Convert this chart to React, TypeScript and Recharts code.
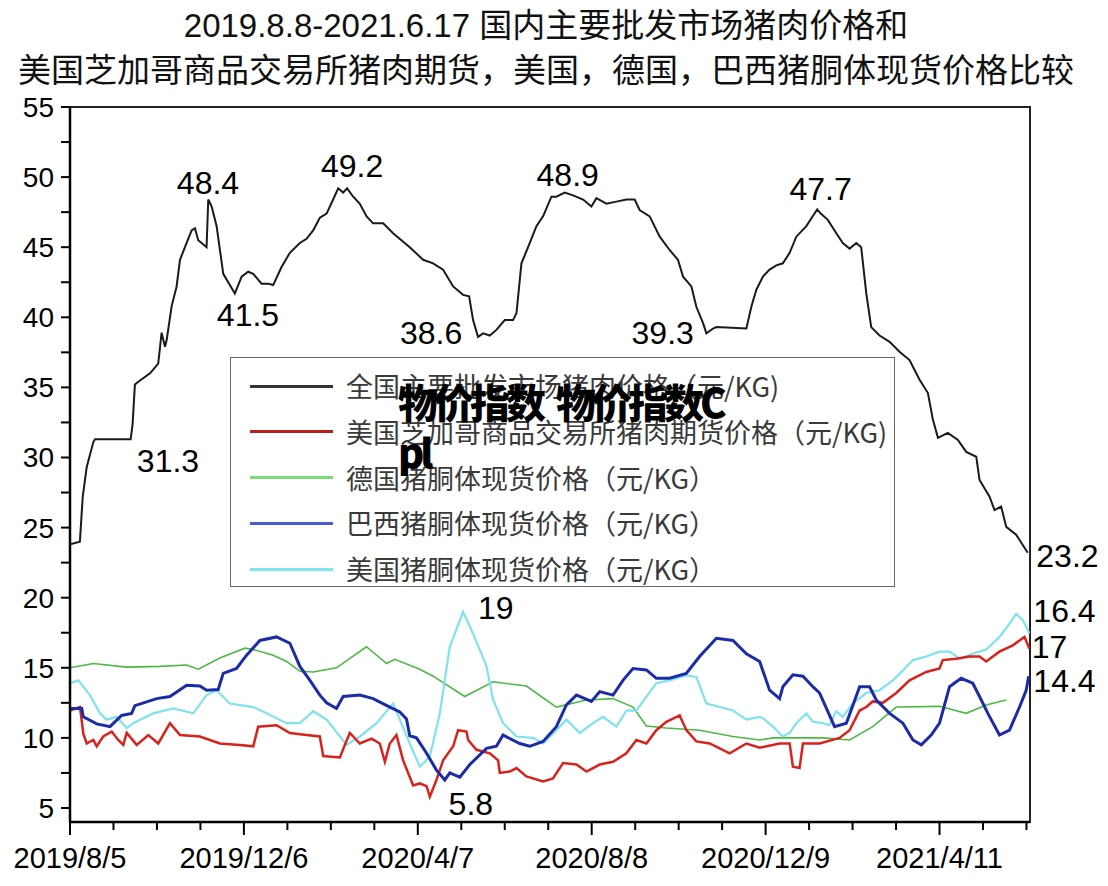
import React from 'react';
import { LineChart, Line, XAxis, YAxis, ReferenceDot, ReferenceArea } from 'recharts';

// x = days since 2019/8/5, y = price (元/KG)
const nationalWholesale: [number, number][] = [
  [0, 23.8], [7, 24.0], [9, 27.2], [11.8, 29.3], [16.5, 31.1], [17.7, 31.3], [42.9, 31.3], [44.3, 32.4], [45.9, 35.2],
  [48.3, 35.4], [56.6, 36.0], [62.4, 36.7], [64.8, 38.9], [67.2, 37.9], [68.4, 38.4], [71.9, 40.8], [75.4, 42.2],
  [77.8, 44.1], [81.3, 45.0], [86, 46.2], [88.4, 46.35], [90.7, 45.5], [93.1, 45.3], [96.6, 45.0], [97.8, 48.4],
  [100.2, 47.9], [103.7, 46.5], [108.4, 43.1], [116.6, 41.7], [121.4, 42.9], [126, 43.25], [129.6, 43.1], [135.5, 42.4],
  [140.2, 42.4], [143.7, 42.3], [149.7, 43.6], [155.5, 44.6], [162.6, 45.3], [167.3, 45.6], [172, 46.2], [176.7, 47.1],
  [181.5, 47.4], [186.1, 48.4], [189.7, 49.2], [193.2, 48.9], [196, 49.2], [200.3, 48.6], [205, 48.1], [209.8, 47.2],
  [214.4, 46.7], [221.5, 46.7], [228.5, 46.0], [240.3, 45.0], [249.8, 44.1], [256.8, 43.85], [263.9, 43.4], [271, 42.2],
  [278, 41.6], [282.3, 41.5], [285.1, 39.8], [288.6, 38.6], [292.2, 38.85], [296.9, 38.7], [301.6, 39.1], [307.5, 39.8],
  [313.4, 39.8], [315.8, 40.3], [319.3, 43.85], [324, 45.0], [329.9, 46.5], [334.6, 47.2], [340.5, 48.6], [344, 48.6],
  [349.9, 48.9], [355.8, 48.7], [362.9, 48.4], [368.8, 47.9], [372.3, 48.5], [379.4, 48.1], [386.5, 48.25], [393.5, 48.4],
  [399.4, 48.4], [402.9, 47.65], [410, 47.2], [417.1, 45.75], [424.1, 44.8], [430, 44.1], [433.6, 42.9], [439.5, 42.2],
  [443, 40.75], [447.7, 39.6], [450.1, 38.85], [454.8, 39.2], [457.2, 39.3], [478.4, 39.2], [481.9, 40.75], [485.4, 41.95],
  [490.1, 42.9], [494.8, 43.4], [499.6, 43.7], [504.2, 43.85], [509, 44.6], [513.7, 45.75], [520.8, 46.5], [526.6, 47.4],
  [528.5, 47.7], [531, 47.4], [536, 46.95], [542, 46.0], [546.6, 45.3], [551.4, 44.9], [556.1, 45.3], [559.6, 45.0],
  [563.2, 41.7], [566.7, 39.3], [572.6, 38.7], [579.7, 38.25], [586.7, 37.55], [593.8, 36.95], [600.9, 35.55],
  [606.8, 34.6], [610.3, 32.7], [613.9, 31.4], [620.9, 31.75], [628, 31.25], [633.9, 30.4], [641, 30.05], [643.3, 28.4],
  [650.4, 27.2], [653.9, 26.25], [658.6, 26.5], [662.2, 25.05], [669.2, 24.5], [677.4, 23.2],
];

const cmeFutures: [number, number][] = [
  [0, 11.95], [7.1, 12.2], [9.4, 10.3], [11.8, 9.6], [16.5, 9.85], [18.9, 9.4], [23.5, 10.1], [29.5, 10.45], [34.1, 9.85],
  [37.7, 9.5], [40.1, 10.35], [47.2, 9.5], [55.4, 10.2], [62.4, 9.6], [70.7, 11.05], [77.8, 10.2], [91.9, 10.1], [106, 9.6],
  [120.2, 9.5], [129.6, 9.4], [133.1, 10.8], [146.1, 10.9], [155.5, 10.35], [167.3, 10.2], [176.7, 10.1], [179.1, 8.7],
  [190.9, 8.6], [194.4, 9.5], [197.9, 10.35], [205, 9.6], [213.3, 9.95], [219.1, 9.6], [222.7, 8.3], [226.2, 9.6],
  [230.9, 10.2], [235.6, 8.4], [242.7, 6.6], [247.4, 6.75], [252.2, 6.55], [254.5, 5.8], [259.2, 7.0], [263.9, 8.4],
  [271, 9.4], [274.5, 10.55], [280.4, 10.45], [281.6, 9.85], [287.5, 9.15], [296.9, 8.9], [302.8, 8.4], [304, 7.5],
  [311, 7.6], [315.8, 7.85], [322.8, 7.25], [334.6, 6.9], [341.6, 7.1], [348.7, 8.2], [358.2, 8.1], [365.3, 7.6],
  [374.7, 8.1], [384.1, 8.3], [393.5, 8.9], [400.6, 9.85], [407.7, 9.6], [414.7, 10.55], [421.8, 11.15], [431.2, 11.6],
  [435.9, 10.55], [443, 9.75], [452.4, 9.6], [466.6, 8.9], [478.4, 9.6], [487.8, 9.3], [501.9, 9.6], [509, 9.6],
  [511.3, 7.95], [516, 7.85], [518.4, 9.6], [530.2, 9.6], [544.3, 10.0], [551.4, 10.55], [558.5, 11.95], [563.2, 12.2],
  [567.8, 12.6], [574.9, 12.5], [584.4, 13.2], [593.8, 14.1], [605.6, 14.7], [615, 14.95], [617.3, 15.55], [626.8, 15.65],
  [636.2, 15.8], [643.3, 15.8], [648, 15.45], [657.4, 16.15], [666.8, 16.6], [675.1, 17.2], [678.6, 16.35],
];

const germanyCarcass: [number, number][] = [
  [0, 15.0], [16.5, 15.3], [40.1, 15.05], [63.6, 15.1], [82.5, 15.2], [90.7, 14.9], [106, 15.7], [123.7, 16.4],
  [129.6, 16.3], [143.7, 15.9], [153.2, 15.45], [162.6, 14.75], [172, 14.7], [188.5, 15.0], [209.7, 16.5], [223.9, 15.3],
  [229.7, 15.6], [247.4, 14.9], [256.8, 14.4], [279.2, 12.95], [299.2, 14.0], [322.8, 13.7], [344, 12.2], [365.3, 12.7],
  [384.1, 12.8], [398.2, 12.2], [407.7, 10.85], [421.8, 10.7], [445.3, 10.55], [468.9, 10.1], [487.8, 9.85], [497.2, 10.0],
  [532.5, 10.0], [551.4, 9.85], [567.8, 10.8], [584.4, 12.2], [615, 12.25], [633.9, 11.75], [648, 12.35], [662.2, 12.7],
];

const brazilCarcass: [number, number][] = [
  [0, 12.1], [8.3, 12.1], [9.4, 11.5], [18.9, 11.0], [28.3, 10.8], [36.5, 11.6], [43.6, 11.75], [45.9, 12.3], [61.3, 12.8],
  [70.7, 12.95], [82.5, 13.75], [91.9, 13.7], [96.6, 13.4], [104.8, 13.45], [108.4, 14.6], [117.8, 14.95], [124.9, 15.9],
  [134.3, 16.95], [146.1, 17.2], [155.5, 16.75], [162.6, 15.1], [169.7, 14.1], [176.7, 13.05], [181.5, 12.5], [188.5, 12.1],
  [193.2, 12.95], [205, 13.05], [214.4, 12.8], [226.2, 12.2], [233.3, 11.85], [238, 11.35], [240.3, 10.15], [245.1, 10.0],
  [252.2, 8.9], [259.2, 7.7], [265.1, 7.0], [268.6, 7.5], [275.7, 7.2], [282.8, 8.1], [294.6, 9.25], [301.6, 9.4],
  [306.3, 10.2], [318.1, 9.6], [325.2, 9.4], [334.6, 9.75], [344, 10.8], [351.1, 12.35], [358.2, 13.05], [368.8, 12.6],
  [374.7, 13.3], [384.1, 13.05], [391.1, 14.1], [398.2, 14.95], [407.7, 14.85], [414.7, 14.25], [424.1, 14.25],
  [435.9, 14.6], [445.3, 15.8], [457.2, 17.1], [468.9, 16.95], [478.4, 16.0], [487.8, 15.45], [494.8, 13.4], [501.9, 12.8],
  [504.2, 13.65], [511.3, 14.5], [518.4, 14.4], [525.4, 13.65], [530.2, 13.2], [540.8, 10.8], [549.1, 11.05],
  [558.5, 13.65], [565.5, 13.65], [570.3, 12.7], [579.7, 11.75], [589.1, 11.05], [596.2, 9.85], [602.1, 9.5], [609.1, 10.2],
  [615, 11.05], [622.1, 13.65], [630.3, 14.25], [638.5, 13.9], [643.3, 12.95], [649.2, 11.75], [657.4, 10.2],
  [664.5, 10.55], [671.6, 12.2], [676.3, 13.4], [678.1, 14.4],
];

const usCarcass: [number, number][] = [
  [0, 13.9], [5.9, 14.1], [14.1, 13.05], [21.2, 11.75], [25.9, 11.3], [33, 11.5], [40.1, 10.7], [44.7, 11.05], [58.9, 11.75],
  [73, 12.1], [87.2, 11.75], [96.6, 13.05], [103.7, 13.4], [113.1, 12.45], [129.6, 12.2], [139, 11.75], [153.2, 11.05],
  [162.6, 11.05], [172, 11.9], [181.5, 11.3], [195.6, 9.5], [205, 10.1], [216.8, 11.05], [228.5, 12.45], [233.3, 11.3],
  [240.3, 9.6], [247.4, 7.95], [254.5, 8.65], [261.6, 11.75], [268.6, 16.5], [278, 19.0], [282.8, 17.95], [289.8, 16.3],
  [294.6, 15.1], [299.2, 12.75], [306.3, 11.05], [315.8, 10.1], [327.5, 10.0], [334.6, 9.6], [344, 10.55], [351.1, 11.3],
  [360.5, 10.35], [369.9, 11.05], [377, 11.5], [386.5, 10.8], [393.5, 11.95], [400.6, 11.95], [407.7, 12.95], [414.7, 13.9],
  [424.1, 14.1], [435.9, 14.45], [443, 14.35], [450.1, 12.45], [459.5, 12.2], [468.9, 11.95], [478.4, 11.3], [487.8, 11.5],
  [490.1, 11.4], [497.2, 10.8], [504.2, 10.1], [509, 10.35], [513.7, 11.05], [520.8, 11.75], [525.4, 11.15], [532.5, 11.05],
  [537.2, 10.9], [541.9, 11.9], [546.6, 11.5], [553.6, 12.45], [563.2, 13.2], [572.6, 13.4], [582, 14.1], [589.1, 14.8],
  [596.2, 15.55], [605.6, 15.8], [615, 16.15], [622.1, 16.15], [629.1, 15.65], [638.5, 16.0], [648, 16.3], [657.4, 17.2],
  [664.5, 18.15], [669.2, 18.85], [673.9, 18.4], [678.6, 17.45],
];

const titleLines = ['2019.8.8-2021.6.17 国内主要批发市场猪肉价格和', '美国芝加哥商品交易所猪肉期货，美国，德国，巴西猪胴体现货价格比较'];
const seriesNames = [
  '全国主要批发市场猪肉价格（元/KG)',
  '美国芝加哥商品交易所猪肉期货价格（元/KG)',
  '德国猪胴体现货价格（元/KG）',
  '巴西猪胴体现货价格（元/KG）',
  '美国猪胴体现货价格（元/KG）',
];
const watermarkParts = ['物价指数', '物价指数C', 'pl'];
const xMajorDays = [0, 123, 246, 369, 492, 615];
const xMajorLabels = ['2019/8/5', '2019/12/6', '2020/4/7', '2020/8/8', '2020/12/9', '2021/4/11'];
const xAllTicks = Array.from({ length: 23 }, (_, i) => i * 30.75);
const yAllTicks = Array.from({ length: 21 }, (_, i) => 5 + i * 2.5);
// annotation text centres, in data coordinates
const annotations: { x: number; y: number; text: string }[] = [
  { x: 97.6, y: 49.6, text: '48.4' },
  { x: 199.5, y: 50.8, text: '49.2' },
  { x: 125.9, y: 40.2, text: '41.5' },
  { x: 255.4, y: 38.9, text: '38.6' },
  { x: 352, y: 50.2, text: '48.9' },
  { x: 419.2, y: 38.9, text: '39.3' },
  { x: 530.9, y: 49.15, text: '47.7' },
  { x: 69.3, y: 29.75, text: '31.3' },
  { x: 705.5, y: 22.97, text: '23.2' },
  { x: 301.1, y: 19.27, text: '19' },
  { x: 703.4, y: 19.05, text: '16.4' },
  { x: 692.8, y: 16.5, text: '17' },
  { x: 703.4, y: 14.06, text: '14.4' },
  { x: 283.5, y: 5.29, text: '5.8' },
];

const seriesColors = ['#1a1a1a', '#d8231c', '#4cb944', '#1c2ca8', '#7fe3ee'];
const legendColors = ['#333333', '#b8201a', '#77dd77', '#4a5bd0', '#7ee8ee'];
const seriesWidths = [2, 2.5, 1.6, 3, 2.2];

const toRows = (arr: [number, number][]) => arr.map(([d, v]) => ({ d, v }));
const allSeries = [nationalWholesale, cmeFutures, germanyCarcass, brazilCarcass, usCarcass];
const drawOrder = [2, 4, 1, 3, 0];

const FONT = "'Liberation Sans', Arial, 'Noto Sans CJK SC', sans-serif";

const XTick = (props: any) => {
  const { x, y, payload } = props;
  const idx = xMajorDays.findIndex((d) => Math.abs(d - payload.value) < 0.01);
  const major = idx >= 0;
  return (
    <g>
      <line x1={x} x2={x} y1={y} y2={y + (major ? 13 : 8)} stroke="#000" strokeWidth={2} />
      {major && (
        <text x={x} y={y + 46} textAnchor="middle" fontSize={29} fontFamily={FONT} fill="#000">
          {xMajorLabels[idx]}
        </text>
      )}
    </g>
  );
};

const YTick = (props: any) => {
  const { x, y, payload } = props;
  const major = Math.abs(payload.value % 5) < 0.01;
  return (
    <g>
      <line x1={x - 9} x2={x} y1={y} y2={y} stroke="#000" strokeWidth={2} />
      {major && (
        <text x={x - 16} y={y + 10} textAnchor="end" fontSize={28} fontFamily={FONT} fill="#000">
          {payload.value}
        </text>
      )}
    </g>
  );
};

export default function App() {
  return (
    <div style={{ position: 'relative', width: 1100, height: 878, background: '#fff', fontFamily: FONT }}>
      <div
        style={{
          position: 'absolute', top: -5, left: 0, width: 1076, textAlign: 'center',
          fontSize: 33, lineHeight: '45px', color: '#111', whiteSpace: 'nowrap',
        }}
      >
        {titleLines.map((t) => (
          <div key={t}>{t}</div>
        ))}
      </div>
      <div style={{ position: 'absolute', top: 0, left: 0 }}>
        <LineChart width={1100} height={878} margin={{ top: 99, right: 78, bottom: 0, left: 0 }}>
          <XAxis
            dataKey="d"
            type="number"
            domain={[0, 679]}
            ticks={xAllTicks}
            interval={0}
            allowDataOverflow
            height={64}
            axisLine={{ stroke: '#000', strokeWidth: 2.5 }}
            tickLine={false}
            tickSize={0}
            tickMargin={0}
            tick={<XTick />}
          />
          <YAxis
            type="number"
            domain={[4, 55]}
            ticks={yAllTicks}
            interval={0}
            allowDataOverflow
            width={62}
            axisLine={{ stroke: '#000', strokeWidth: 2.5 }}
            tickLine={false}
            tickSize={0}
            tickMargin={0}
            tick={<YTick />}
          />
          <ReferenceArea x1={0} x2={679} y1={4} y2={55} fill="none" stroke="#222" strokeWidth={2} />
          {drawOrder.map((i) => (
            <Line
              key={i}
              data={toRows(allSeries[i])}
              dataKey="v"
              type="linear"
              stroke={seriesColors[i]}
              strokeWidth={seriesWidths[i]}
              dot={false}
              isAnimationActive={false}
              name={seriesNames[i]}
            />
          ))}
          {annotations.map((a) => (
            <ReferenceDot
              key={a.text}
              x={a.x}
              y={a.y}
              r={1}
              fill="none"
              stroke="none"
              ifOverflow="visible"
              label={{ value: a.text, position: 'center', fontSize: 32, fill: '#000', fontFamily: FONT }}
            />
          ))}
        </LineChart>
      </div>
      <div
        style={{
          position: 'absolute', left: 222, top: 349, width: 665, height: 230, boxSizing: 'border-box',
          border: '1.5px solid #666', background: '#fff',
        }}
      >
        {seriesNames.map((n, i) => (
          <div key={n} style={{ position: 'absolute', left: 0, top: 28 + i * 45.8 - 20, height: 40, width: '100%' }}>
            <div style={{ position: 'absolute', left: 19, top: 18.5, width: 83, height: 3, background: legendColors[i] }} />
            <div
              style={{
                position: 'absolute', left: 115, top: 0, height: 40, lineHeight: '40px', fontSize: 27,
                color: '#3a3a3a', whiteSpace: 'nowrap', fontFamily: "'Noto Sans CJK SC', 'Liberation Sans', sans-serif",
              }}
            >
              {n}
            </div>
          </div>
        ))}
      </div>
      <div
        style={{
          position: 'absolute', left: 390, top: 368, fontSize: 40, fontWeight: 900, lineHeight: '50px',
          letterSpacing: -4, color: '#000', whiteSpace: 'nowrap', fontFamily: "'Noto Sans CJK SC', sans-serif",
        }}
      >
        <div>
          <span>{watermarkParts[0]}</span>
          <span style={{ display: 'inline-block', width: 14 }} />
          <span>{watermarkParts[1]}</span>
        </div>
        <div>{watermarkParts[2]}</div>
      </div>
    </div>
  );
}
